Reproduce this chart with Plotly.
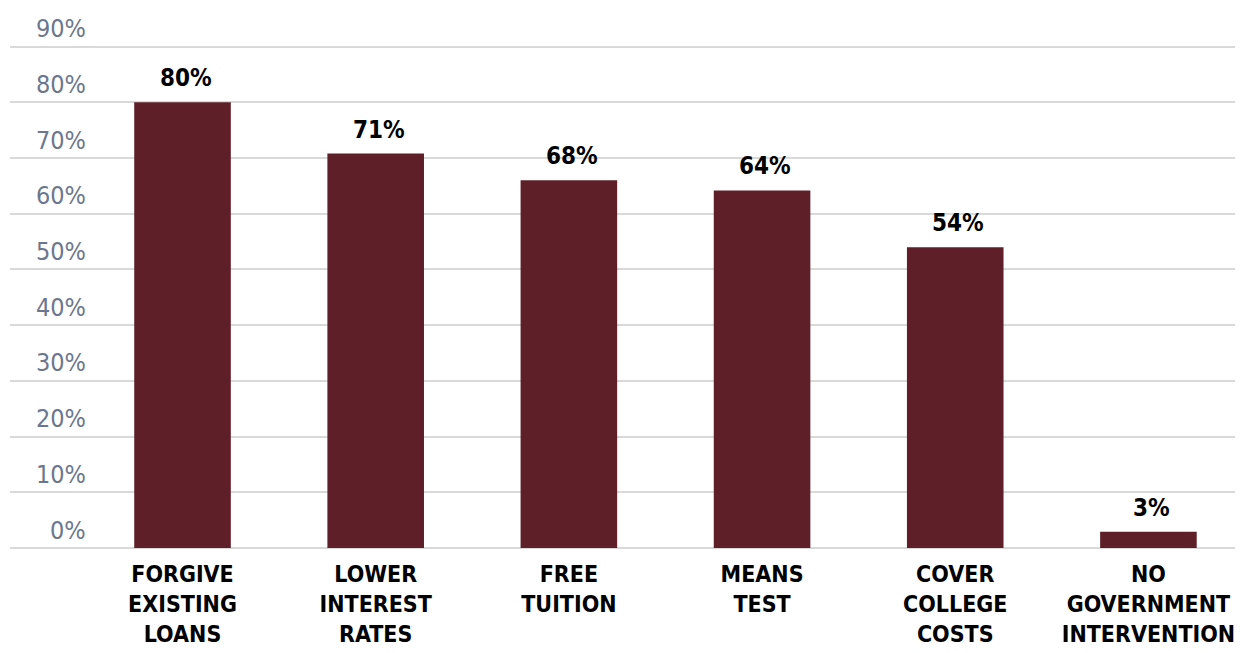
import plotly.graph_objects as go

categories = ["FORGIVE<br>EXISTING<br>LOANS", "LOWER<br>INTEREST<br>RATES", "FREE<br>TUITION",
              "MEANS<br>TEST", "COVER<br>COLLEGE<br>COSTS", "NO<br>GOVERNMENT<br>INTERVENTION"]
bar_heights = [80, 70.8, 66, 64.2, 54, 2.9]
value_labels = ["80%", "71%", "68%", "64%", "54%", "3%"]
y_ticks = [0, 10, 20, 30, 40, 50, 60, 70, 80, 90]
y_tick_labels = ["0%", "10%", "20%", "30%", "40%", "50%", "60%", "70%", "80%", "90%"]

BAR = "#5F1F29"
COND = "DejaVu Sans Condensed, DejaVu Sans, sans-serif"
xs = list(range(len(categories)))

fig = go.Figure()
fig.add_trace(go.Bar(x=xs, y=bar_heights, marker=dict(color=BAR, line=dict(width=0)),
                     width=0.5, hoverinfo="skip"))

annotations = []
for x, h, lab in zip(xs, bar_heights, value_labels):
    annotations.append(dict(x=x, y=h, xref="x", yref="y", text=f"<b>{lab}</b>", showarrow=False,
                            yanchor="bottom", xanchor="center", yshift=8, xshift=3,
                            font=dict(family=COND, size=24, color="#000000")))
for t, lab in zip(y_ticks, y_tick_labels):
    annotations.append(dict(x=0.0631, y=t, xref="paper", yref="y", text=lab, showarrow=False,
                            xanchor="right", yanchor="middle", yshift=18,
                            font=dict(family=COND, size=25, color="#6B778D")))

fig.update_layout(
    width=1243, height=645,
    margin=dict(l=2, r=0, t=37, b=105, autoexpand=False),
    paper_bgcolor="white", plot_bgcolor="white",
    showlegend=False,
    xaxis=dict(range=[-0.893, 5.531], tickmode="array", tickvals=xs, ticktext=[f"<b>{c}</b>" for c in categories],
               tickfont=dict(family=COND, size=23, color="#000000"), showgrid=False,
               zeroline=False, showline=False, ticks="", ticklabelstandoff=10, ticklabeloverflow="allow",
               automargin=False, fixedrange=True),
    yaxis=dict(range=[0, 90.3], tickmode="array", tickvals=y_ticks, showticklabels=False,
               showgrid=True, gridcolor="#D9D9D9", gridwidth=1.5, zeroline=True,
               zerolinecolor="#D9D9D9", zerolinewidth=1.5, showline=False, fixedrange=True),
    annotations=annotations,
)

fig.write_html("out.html")
